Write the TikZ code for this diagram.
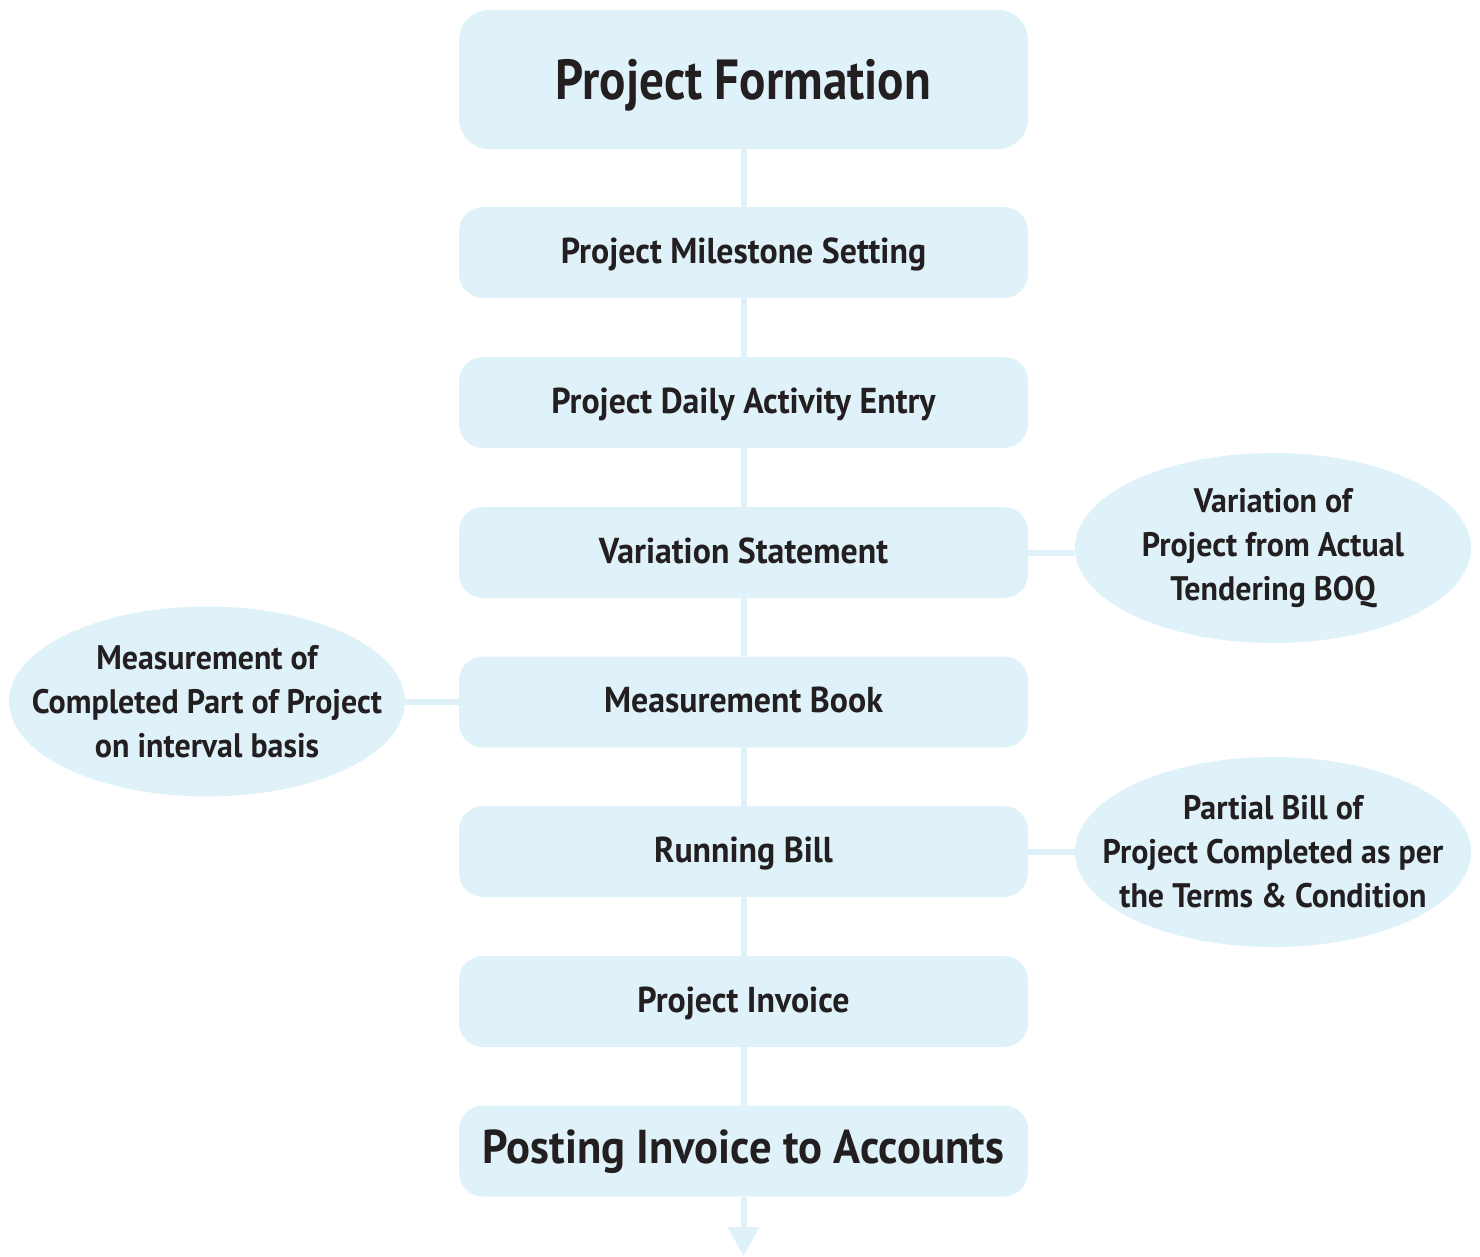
\documentclass[tikz,border=0pt]{standalone}
\usepackage{fontspec}
\newfontfamily\lbl{PT Sans}[FakeStretch=0.87]
\newfontfamily\lblw{PT Sans}[FakeStretch=0.94]
\definecolor{boxblue}{HTML}{DFF2FA}
\definecolor{ink}{HTML}{231F20}
\usetikzlibrary{shapes.geometric,calc}
\begin{document}
\begin{tikzpicture}[x=1pt,y=-1pt,
  stepbox/.style={fill=boxblue, rounded corners=24pt, minimum width=569pt, minimum height=91pt, inner sep=0pt, text=ink, text height=25pt, text depth=4pt, font=\lblw\bfseries\fontsize{36}{40}\selectfont},
  bubble/.style={ellipse, fill=boxblue, minimum width=396pt, minimum height=190pt, inner sep=0pt},
  bubbletext/.style={inner sep=0pt, text=ink, align=center, font=\lblw\bfseries\fontsize{34}{44}\selectfont},
  link/.style={draw=boxblue, line width=6pt}]
\useasboundingbox (0,0) rectangle (1480,1256);
\node[stepbox, minimum height=139pt, rounded corners=30pt, text height=39pt, text depth=0pt, font=\lbl\bfseries\fontsize{56.5}{60}\selectfont] (b1) at (743.5,79.5) {Project Formation};
\node[stepbox] (b2) at (743.5,252.5) {Project Milestone Setting};
\node[stepbox] (b3) at (743.5,402.5) {Project Daily Activity Entry};
\node[stepbox] (b4) at (743.5,552.5) {Variation Statement};
\node[stepbox] (b5) at (743.5,702) {Measurement Book};
\node[stepbox] (b6) at (743.5,851.5) {Running Bill};
\node[stepbox] (b7) at (743.5,1001.5) {Project Invoice};
\node[stepbox, text height=33pt, text depth=8pt, font=\lblw\bfseries\fontsize{47.5}{52}\selectfont] (b8) at (743.5,1151) {Posting Invoice to Accounts};
\node[bubble] (e1) at (1273,548) {};
\node[bubble] (e2) at (207,701.5) {};
\node[bubble] (e3) at (1273,852) {};
\node[bubbletext] (t1) at (e1) {Variation of\\Project from Actual\\Tendering BOQ};
\node[bubbletext] (t2) at (e2) {Measurement of\\Completed Part of Project\\on interval basis};
\node[bubbletext] (t3) at (e3) {Partial Bill of\\Project Completed as per\\the Terms \& Condition};
\coordinate (tip) at (743.5,1256);
\draw[link] (b1.south) -- (b2.north);
\draw[link] (b2.south) -- (b3.north);
\draw[link] (b3.south) -- (b4.north);
\draw[link] (b4.south) -- (b5.north);
\draw[link] (b5.south) -- (b6.north);
\draw[link] (b6.south) -- (b7.north);
\draw[link] (b7.south) -- (b8.north);
\draw[link] (b4.east) -- (b4.east -| e1.west);
\draw[link] (b5.west) -- (b5.west -| e2.east);
\draw[link] (b6.east) -- (b6.east -| e3.west);
\draw[link] (b8.south) -- ($(tip)+(0,-29)$);
\fill[boxblue] ($(tip)+(-16,-29)$) -- ($(tip)+(16,-29)$) -- (tip) -- cycle;
\end{tikzpicture}
\end{document}
